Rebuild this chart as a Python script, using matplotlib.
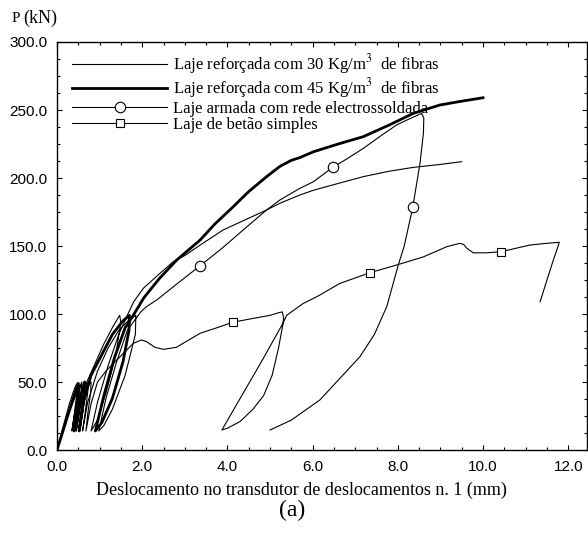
import numpy as np
import matplotlib
matplotlib.use("Agg")
import matplotlib.pyplot as plt
from matplotlib.lines import Line2D
from matplotlib.ticker import MultipleLocator, FormatStrFormatter

# ---- data (displacement mm, load kN) ----
fib30_x = [0, 0.15, 0.3, 0.42, 0.47, 0.46, 0.4, 0.35, 0.42, 0.52, 0.58, 0.57, 0.5, 0.45, 0.55, 0.7, 0.9,
           1.1, 1.3, 1.47, 1.5, 1.38, 1.15, 0.95, 0.8, 0.95, 1.2, 1.45, 1.62, 1.8, 2.03, 2.42, 2.73, 3.0,
           3.36, 3.9, 4.4, 4.92, 5.23, 5.7, 6.02, 6.6, 7.19, 7.8, 8.36, 9.0, 9.5]
fib30_y = [0, 18, 35, 46, 49, 40, 25, 14, 28, 43, 50, 42, 25, 14, 32, 50, 64,
           78, 90, 99, 94, 70, 42, 22, 14, 35, 62, 85, 97, 109, 119, 130, 138.5, 143,
           150.7, 161.8, 169, 176.5, 181.4, 187.5, 191, 196, 201, 205, 207.8, 210, 212]

fib45_x = [0, 0.2, 0.4, 0.5, 0.5, 0.44, 0.4, 0.48, 0.6, 0.65, 0.64, 0.57, 0.52, 0.62, 0.8, 1.05, 1.3,
           1.55, 1.7, 1.69, 1.55, 1.3, 1.05, 0.9, 1.1, 1.35, 1.6, 1.79, 2.04, 2.4, 2.81, 3.36, 3.7,
           4.14, 4.5, 4.92, 5.23, 5.5, 5.7, 6.02, 6.6, 7.19, 7.8, 8.36, 8.99, 9.5, 10.0]
fib45_y = [0, 20, 40, 49, 42, 25, 14, 30, 45, 50, 40, 25, 14, 35, 55, 70, 85,
           95, 99, 88, 65, 38, 20, 14, 40, 68, 90, 99, 112, 126, 139.7, 154.4, 166,
           179, 190, 201, 208.5, 213, 215, 219.3, 225, 230.4, 239, 247.5, 253.7, 256.5, 259]

mesh_x = [0, 0.25, 0.5, 0.58, 0.57, 0.5, 0.45, 0.55, 0.68, 0.73, 0.72, 0.65, 0.6, 0.72, 0.95, 1.2,
          1.45, 1.7, 1.85, 1.84, 1.6, 1.3, 1.1, 0.98, 1.15, 1.4, 1.65, 1.97, 2.1, 2.34, 2.85, 3.36,
          3.9, 4.37, 4.92, 5.23, 5.7, 6.02, 6.47, 6.8, 7.19, 7.6, 7.97, 8.21, 8.45, 8.56, 8.61, 8.6,
          8.52, 8.35, 8.15, 8.01, 7.74, 7.45, 7.11, 6.64, 6.17, 5.5, 5.0]
mesh_y = [0, 25, 45, 49, 40, 24, 14, 32, 46, 50, 42, 25, 14, 35, 58, 75,
          88, 96, 99, 85, 55, 30, 18, 14, 38, 65, 88, 101.7, 105.4, 110.3, 123, 135.5,
          149, 161.8, 176.5, 183.8, 192.4, 197.3, 207.8, 214, 221.8, 231, 239, 242.6, 246, 247.5, 243.9, 232.8,
          210.8, 178.4, 150, 136, 105.4, 85, 68.6, 52.7, 36.8, 22, 14.7]
mesh_marker_x = [3.36, 6.47, 8.35]

plain_x = [0, 0.2, 0.4, 0.52, 0.52, 0.46, 0.42, 0.5, 0.65, 0.8, 0.79, 0.72, 0.68, 0.8, 0.95, 1.17,
           1.48, 1.79, 1.98, 2.1, 2.3, 2.5, 2.8, 3.36, 3.83, 4.12, 4.61, 5.0, 5.23, 5.29, 5.32, 5.3,
           5.2, 5.05, 4.85, 4.6, 4.3, 4.0, 3.87, 4.3, 4.8, 5.3, 5.39, 5.78, 6.1, 6.64, 7.35, 7.97, 8.6,
           9.15, 9.46, 9.55, 9.62, 9.77, 10.1, 10.42, 11.1, 11.5, 11.79, 11.72, 11.65, 11.5, 11.4, 11.34]
plain_y = [0, 20, 38, 48, 40, 24, 14, 30, 44, 50, 42, 26, 14, 34, 50, 58.8,
           68.6, 78.4, 80.9, 79.7, 75.5, 74, 75.5, 85.8, 90.7, 93.9, 96.8, 99, 101.2, 101.5, 97, 92,
           75, 55, 40, 30, 21, 16, 14.7, 38, 65, 93, 99, 107.8, 112.7, 122.5, 130.4, 136, 142,
           149.5, 152, 151, 148.3, 145, 145, 145.8, 150.7, 152, 152.7, 146, 139.7, 125, 115, 109]
plain_marker_x = [4.12, 7.35, 10.42]

labels = ["Laje reforçada com 30 Kg/m$^{3}$  de fibras",
          "Laje reforçada com 45 Kg/m$^{3}$  de fibras",
          "Laje armada com rede electrossoldada",
          "Laje de betão simples"]
x_ticks = [0, 2, 4, 6, 8, 10, 12]
y_ticks = [0, 50, 100, 150, 200, 250, 300]

plt.rcParams['mathtext.fontset'] = 'stix'
plt.rcParams['mathtext.rm'] = 'Liberation Serif'

fig = plt.figure(figsize=(5.88, 5.33), dpi=100)
ax = fig.add_axes([57/588, 83/533, 530/588, 408/533])

def idx(xs, targets):
    return [int(np.argmin(np.abs(np.asarray(xs) - t))) for t in targets]

ax.plot(fib30_x, fib30_y, color='k', lw=0.8)
ax.plot(fib45_x, fib45_y, color='k', lw=2.0)
ax.plot(mesh_x, mesh_y, color='k', lw=0.8, marker='o', ms=7.5, mfc='white', mec='k', mew=0.8,
        markevery=idx(mesh_x, mesh_marker_x))
ax.plot(plain_x, plain_y, color='k', lw=0.8, marker='s', ms=5.5, mfc='white', mec='k', mew=0.8,
        markevery=idx(plain_x, plain_marker_x))

ax.set_xlim(0, 12.44)
ax.set_ylim(0, 300)
ax.set_xticks(x_ticks)
ax.set_yticks(y_ticks)
ax.xaxis.set_minor_locator(MultipleLocator(0.5))
ax.yaxis.set_minor_locator(MultipleLocator(12.5))
ax.xaxis.set_major_formatter(FormatStrFormatter('%.1f'))
ax.yaxis.set_major_formatter(FormatStrFormatter('%.1f'))
ax.tick_params(which='both', direction='in', top=True, right=True, width=0.8, color='k')
ax.tick_params(which='major', length=3.5)
ax.tick_params(which='minor', length=2)
ax.tick_params(axis='y', which='major', pad=7)
ax.tick_params(axis='x', which='major', pad=7)
for lab in ax.get_xticklabels() + ax.get_yticklabels():
    lab.set_fontfamily('Liberation Sans')
    lab.set_fontsize(11)
for sp in ax.spines.values():
    sp.set_linewidth(1.0)

handles = [Line2D([], [], color='k', lw=0.8),
           Line2D([], [], color='k', lw=2.0),
           Line2D([], [], color='k', lw=0.8, marker='o', ms=7.5, mfc='white', mec='k', mew=0.8),
           Line2D([], [], color='k', lw=0.8, marker='s', ms=5.5, mfc='white', mec='k', mew=0.8)]
leg = ax.legend(handles, labels, loc='upper left', bbox_to_anchor=(15/530, 1 - 10/408),
                frameon=False, borderaxespad=0, borderpad=0, handlelength=5.7, handletextpad=0.35,
                labelspacing=0.02, numpoints=1,
                prop={'family': 'Liberation Serif', 'size': 12})

ax.set_xlabel("Deslocamento no transdutor de deslocamentos n. 1 (mm)",
              fontfamily='Liberation Serif', fontsize=13)
ax.xaxis.set_label_coords((301 - 57) / 530, -(490 - 450) / 408)
ax.xaxis.label.set_verticalalignment('center')

fig.text(292 / 588, 1 - 510 / 533, "(a)", ha='center', va='center',
         fontfamily='Liberation Serif', fontsize=17)
fig.text(12 / 588, 1 - 19 / 533, "P", ha='left', va='center',
         fontfamily='Liberation Serif', fontsize=11)
fig.text(23 / 588, 1 - 18 / 533, "(kN)", ha='left', va='center',
         fontfamily='Liberation Serif', fontsize=13)

fig.savefig("out.png", dpi=100)
